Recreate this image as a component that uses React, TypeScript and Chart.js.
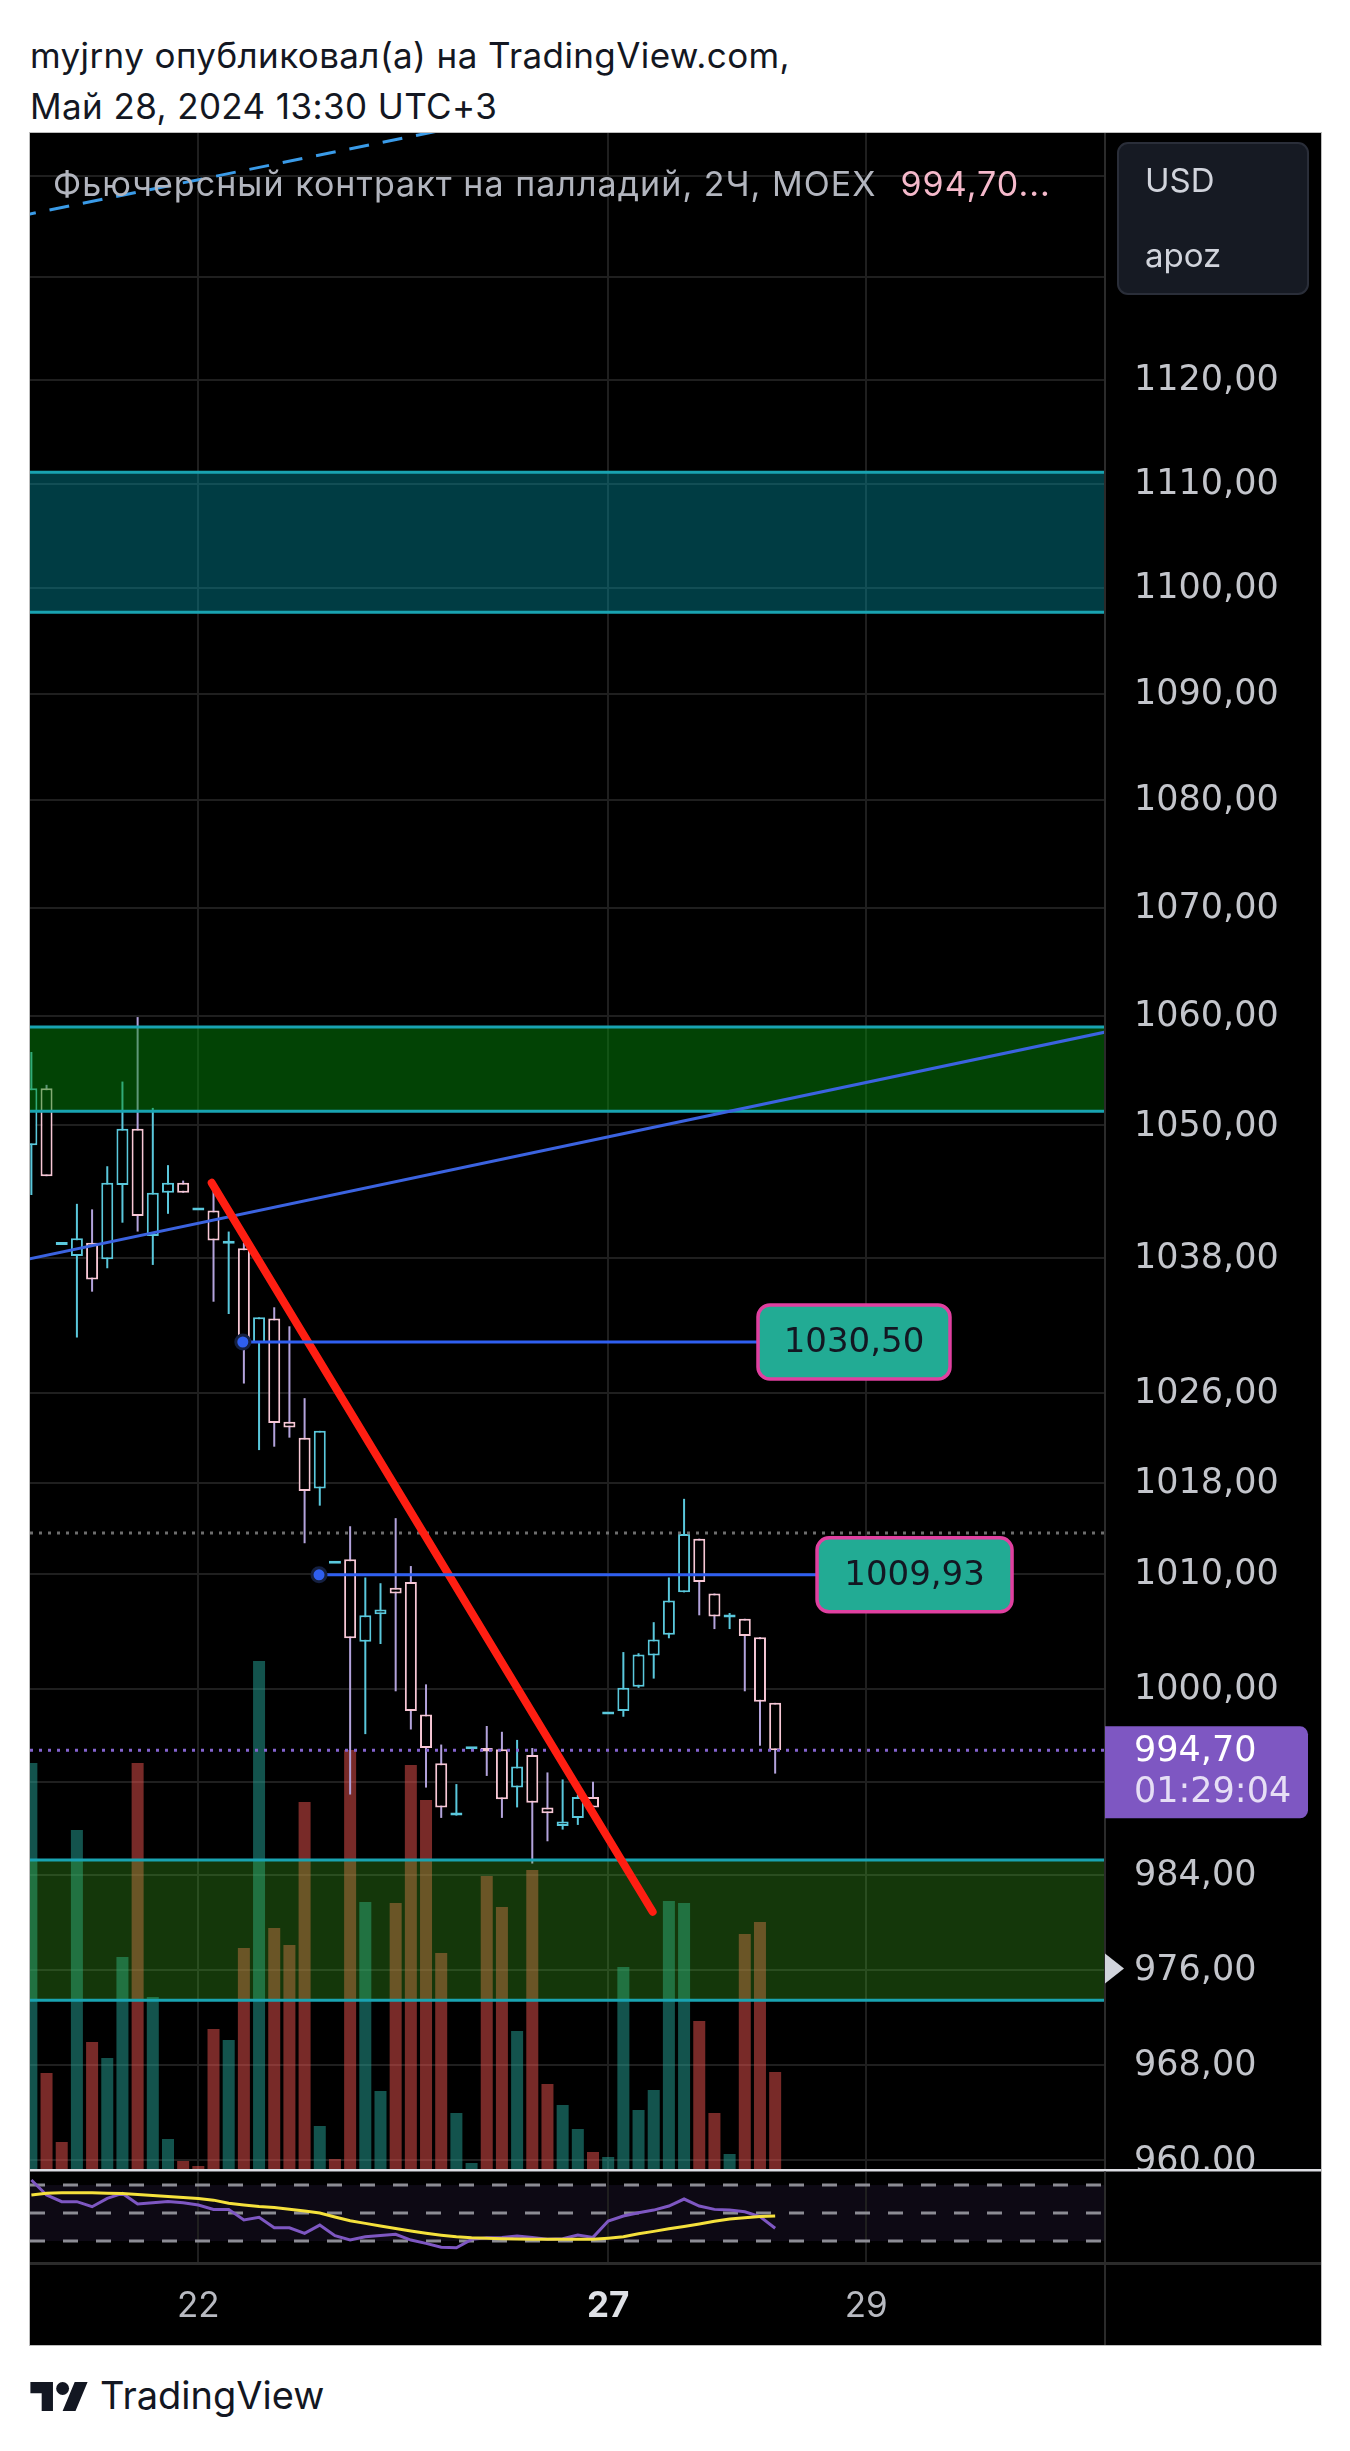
import React, { useEffect, useRef } from 'react';
import { Chart, registerables } from 'chart.js';

Chart.register(...registerables);

const FONT = "Inter, 'Noto Sans', 'DejaVu Sans', sans-serif";
const NUM_FONT = "'DejaVu Sans', Inter, sans-serif";

// ---- data: 2H candles, index 0..49 ----
const candleOpen = [1048.2, 1053.4, 1039.2, 1038.2, 1039.4, 1037.9, 1044.6, 1049.7, 1040.0, 1043.9, 1044.8, 1042.3, 1042.3, 1039.3, 1038.9, 1030.4, 1032.6, 1023.4, 1022.0, 1017.5, 1010.9, 1011.3, 1004.1, 1006.5, 1008.8, 1009.3, 997.8, 993.6, 989.1, 994.8, 994.9, 994.8, 991.5, 994.3, 989.8, 988.2, 988.9, 990.7, 997.8, 998.1, 1000.2, 1002.9, 1004.7, 1008.4, 1013.1, 1008.3, 1006.2, 1006.1, 1004.5, 998.8];
const candleHigh = [1056.7, 1053.7, 1039.2, 1042.9, 1042.4, 1046.3, 1054.0, 1059.9, 1051.6, 1046.4, 1045.0, 1042.3, 1044.1, 1040.4, 1039.4, 1032.7, 1033.6, 1031.9, 1025.5, 1022.6, 1010.9, 1014.2, 1009.7, 1009.2, 1014.9, 1010.7, 1000.4, 995.2, 991.8, 994.8, 996.8, 996.3, 995.6, 994.9, 992.8, 992.2, 990.9, 992.0, 997.8, 1003.2, 1003.1, 1005.8, 1009.7, 1016.6, 1013.1, 1008.3, 1006.6, 1006.1, 1004.5, 998.8];
const candleLow = [1043.7, 1045.4, 1039.2, 1030.9, 1035.0, 1037.1, 1041.2, 1040.4, 1037.4, 1042.0, 1043.9, 1042.3, 1034.1, 1033.0, 1026.8, 1020.9, 1021.2, 1022.0, 1012.7, 1016.0, 1010.9, 990.9, 996.1, 1003.9, 999.8, 996.5, 991.5, 988.9, 989.1, 994.8, 992.5, 988.9, 989.8, 985.0, 986.9, 987.9, 988.3, 989.8, 997.8, 997.6, 1000.1, 1000.9, 1004.4, 1008.4, 1006.4, 1005.2, 1005.2, 999.8, 995.1, 992.7];
const candleClose = [1053.4, 1045.4, 1039.2, 1039.8, 1036.1, 1044.8, 1049.7, 1041.8, 1043.9, 1044.8, 1043.9, 1042.3, 1039.6, 1039.4, 1030.5, 1032.7, 1023.3, 1022.9, 1017.3, 1022.6, 1010.9, 1004.4, 1006.4, 1006.9, 1008.3, 998.1, 994.9, 989.8, 989.1, 994.8, 994.6, 990.5, 993.3, 990.2, 989.3, 988.6, 990.7, 989.8, 997.8, 1000.1, 1003.0, 1004.3, 1007.7, 1013.5, 1009.3, 1006.3, 1006.4, 1004.6, 998.9, 994.7];
const volume = [406, 96, 27, 339, 127, 111, 212, 406, 172, 30, 8, 3, 140, 129, 221, 508, 241, 224, 367, 43, 10, 419, 267, 78, 266, 404, 369, 216, 56, 6, 293, 262, 138, 299, 85, 64, 40, 17, 12, 202, 59, 79, 268, 266, 148, 56, 15, 235, 247, 97];
const volumeUp = [1, 0, 0, 1, 0, 1, 1, 0, 1, 1, 0, 0, 0, 1, 0, 1, 0, 0, 0, 1, 0, 0, 1, 1, 0, 0, 0, 0, 1, 1, 0, 0, 1, 0, 0, 1, 1, 0, 1, 1, 1, 1, 1, 1, 0, 0, 1, 0, 0, 0];
const rsiValues = [73.6, 62.9, 58.1, 58.1, 54.5, 60.5, 64.0, 56.4, 57.4, 58.3, 57.4, 55.7, 52.6, 52.6, 45.0, 46.9, 39.5, 39.5, 35.5, 41.4, 33.8, 30.7, 33.1, 34.0, 34.8, 30.7, 28.3, 25.5, 25.2, 31.2, 32.4, 32.6, 33.6, 32.6, 31.2, 31.7, 34.3, 32.6, 44.3, 47.9, 50.2, 52.1, 55.0, 60.0, 55.0, 52.6, 52.1, 50.9, 47.4, 39.1];
const rsiMa = [62.9, 64.1, 64.5, 64.5, 64.4, 64.2, 63.9, 63.3, 62.5, 61.8, 61.0, 60.4, 59.2, 57.0, 55.8, 54.6, 53.9, 52.7, 51.4, 50.0, 47.2, 44.5, 42.6, 40.8, 38.9, 37.2, 35.6, 34.2, 33.0, 32.3, 32.0, 31.7, 31.5, 31.3, 31.2, 31.2, 31.2, 31.2, 32.0, 33.0, 35.2, 36.9, 38.7, 40.4, 42.2, 44.1, 45.8, 46.6, 47.5, 47.9];
const rsiLevels = [70, 50, 30];

const priceTicks = [1140, 1130, 1120, 1110, 1100, 1090, 1080, 1070, 1060, 1050, 1038, 1026, 1018, 1010, 1000, 992, 984, 976, 968, 960];
const dayTicks = [11, 38, 55];
const dayLabels = ['22', '27', '29'];

const zoneTeal = [1097.7, 1111.1];
const zoneGreenTop = [1051.3, 1059.0];
const zoneGreenBottom = [973.4, 985.3];
const trendLine = [[-1, 1037.7], [71, 1058.6]];
const channelLine = [[-1, 1135.95], [30, 1145.4]];
const redLine = [[11.88, 1044.8], [40.93, 980.9]];
const levelA = [[13.93, 1030.5], [47.87, 1030.5]];
const levelB = [[18.95, 1009.93], [51.76, 1009.93]];
const sessionHigh = 1013.6;
const lastPrice = 994.7;
const countdown = '01:29:04';
const arrowPrice = 976;

const PRICE_MIN = 959.29;
const PRICE_MAX = 1144.22;
const X_MIN = -0.09;
const X_MAX = 70.73;
const RSI_MIN = 14.3;
const RSI_MAX = 79.3;
const VOL_MAX = 2036;

const BULL = '#5ac8dc';
const BEAR = '#f7c7d5';
const BEAR_WICK = '#b3a3dc';
const VOL_UP = 'rgba(38,166,154,0.5)';
const VOL_DOWN = 'rgba(239,83,80,0.5)';
const GRID = '#1f1f1f';
const AXIS_TEXT = '#c3c5cb';
const ZONE_LINE = '#19a3b1';
const LEVEL_BLUE = '#2f5ff0';

const fmt = (v: number) => v.toFixed(2).replace('.', ',');
const pts = (arr: number[][]) => arr.map(([x, y]) => ({ x, y }));

function drawZones(chart: any) {
  const { ctx, chartArea: a, scales } = chart;
  const y = scales.y;
  ctx.save();
  ctx.beginPath();
  ctx.rect(a.left, a.top, a.right - a.left, a.bottom - a.top);
  ctx.clip();
  const zs: [number[], string][] = [
    [zoneTeal, 'rgba(0,150,168,0.40)'],
    [zoneGreenTop, 'rgba(5,140,10,0.48)'],
    [zoneGreenBottom, 'rgba(71,196,36,0.28)'],
  ];
  for (const [z, c] of zs) {
    const yTop = y.getPixelForValue(z[1]);
    const yBot = y.getPixelForValue(z[0]);
    ctx.fillStyle = c;
    ctx.fillRect(a.left, yTop, a.right - a.left, yBot - yTop);
    ctx.strokeStyle = ZONE_LINE;
    ctx.lineWidth = 3;
    ctx.beginPath();
    ctx.moveTo(a.left, yTop);
    ctx.lineTo(a.right, yTop);
    ctx.moveTo(a.left, yBot);
    ctx.lineTo(a.right, yBot);
    ctx.stroke();
  }
  ctx.restore();
}

function drawLevelBox(chart: any, level: number[][], text: string, w: number) {
  const { ctx, scales } = chart;
  const x0 = scales.x.getPixelForValue(level[1][0]);
  const yc = scales.y.getPixelForValue(level[1][1]);
  const h = 74;
  ctx.save();
  ctx.beginPath();
  ctx.roundRect(x0, yc - h / 2, w, h, 12);
  ctx.fillStyle = '#22ab94';
  ctx.fill();
  ctx.lineWidth = 3.5;
  ctx.strokeStyle = '#e040a0';
  ctx.stroke();
  ctx.fillStyle = '#131722';
  ctx.font = `34px ${NUM_FONT}`;
  ctx.textAlign = 'center';
  ctx.textBaseline = 'middle';
  ctx.fillText(text, x0 + w / 2, yc + 1);
  ctx.restore();
}

function PriceChart() {
  const ref = useRef<HTMLCanvasElement | null>(null);
  useEffect(() => {
    const canvas = ref.current;
    if (!canvas) return;
    const idx = candleOpen.map((_, i) => i);
    const up = idx.map((i) => candleClose[i] >= candleOpen[i]);

    const overlayPlugin = {
      id: 'tvOverlay',
      beforeDraw(chart: any) {
        const { ctx, width, height } = chart;
        ctx.save();
        ctx.fillStyle = '#000';
        ctx.fillRect(0, 0, width, height);
        ctx.restore();
      },
      beforeDatasetsDraw(chart: any) {
        chart.$zonesDrawn = false;
      },
      beforeDatasetDraw(chart: any, args: any) {
        const ds = chart.data.datasets[args.index];
        if (ds.overlay && !chart.$zonesDrawn) {
          chart.$zonesDrawn = true;
          drawZones(chart);
        }
      },
      afterDraw(chart: any) {
        const { ctx, chartArea: a, scales, height } = chart;
        ctx.save();
        ctx.fillStyle = '#2b2b2b';
        ctx.fillRect(a.right - 1, 0, 2, height);
        ctx.restore();

        drawLevelBox(chart, levelA, fmt(levelA[1][1]), 192);
        drawLevelBox(chart, levelB, fmt(levelB[1][1]), 195);

        // current price label
        const yl = scales.y.getPixelForValue(lastPrice);
        ctx.save();
        ctx.beginPath();
        ctx.roundRect(a.right, yl - 24, 203, 92, [0, 8, 8, 0]);
        ctx.fillStyle = '#7e57c2';
        ctx.fill();
        ctx.font = `35px ${NUM_FONT}`;
        ctx.textBaseline = 'middle';
        ctx.textAlign = 'left';
        ctx.fillStyle = '#ffffff';
        ctx.fillText(fmt(lastPrice), a.right + 29, yl + 2);
        ctx.fillStyle = '#e6def5';
        ctx.fillText(countdown, a.right + 29, yl + 43);
        ctx.restore();

        // arrow marker
        const ya = scales.y.getPixelForValue(arrowPrice) - 1;
        ctx.save();
        ctx.fillStyle = '#d1d4dc';
        ctx.beginPath();
        ctx.moveTo(a.right, ya - 15);
        ctx.lineTo(a.right + 19, ya);
        ctx.lineTo(a.right, ya + 15);
        ctx.closePath();
        ctx.fill();
        ctx.restore();

        // legend
        ctx.save();
        ctx.font = `34px ${FONT}`;
        (ctx as any).letterSpacing = '1.05px';
        ctx.textBaseline = 'middle';
        ctx.textAlign = 'left';
        ctx.fillStyle = '#b2b5be';
        const title = 'Фьючерсный контракт на палладий, 2Ч, MOEX';
        ctx.fillText(title, 23, 53);
        const tw = ctx.measureText(title).width;
        ctx.fillStyle = '#f5b9cb';
        ctx.fillText(fmt(lastPrice) + '...', 23 + tw + 24, 53);
        ctx.restore();

        // currency / unit box
        ctx.save();
        ctx.beginPath();
        ctx.roundRect(1088, 10, 190, 151, 10);
        ctx.fillStyle = '#161a23';
        ctx.fill();
        ctx.lineWidth = 2;
        ctx.strokeStyle = '#2a2e39';
        ctx.stroke();
        ctx.font = `33px ${FONT}`;
        ctx.fillStyle = '#d1d4dc';
        ctx.textBaseline = 'middle';
        ctx.fillText('USD', 1115, 49);
        ctx.fillText('apoz', 1115, 124);
        ctx.restore();
      },
    };

    const flat = (y: number) => [{ x: X_MIN, y }, { x: X_MAX, y }];

    const chart = new Chart(canvas, {
      type: 'bar',
      data: {
        datasets: [
          { type: 'line', overlay: true, data: pts(levelA), borderColor: LEVEL_BLUE, borderWidth: 3, pointRadius: [7, 0], pointBackgroundColor: LEVEL_BLUE, pointBorderColor: '#152040', pointBorderWidth: 3, order: 0, clip: 0 },
          { type: 'line', overlay: true, data: pts(levelB), borderColor: LEVEL_BLUE, borderWidth: 3, pointRadius: [7, 0], pointBackgroundColor: LEVEL_BLUE, pointBorderColor: '#152040', pointBorderWidth: 3, order: 0, clip: 0 },
          { type: 'line', overlay: true, data: pts(redLine), borderColor: '#ff1e12', borderWidth: 8, borderCapStyle: 'round', pointRadius: 0, order: 0, clip: 0 },
          { type: 'line', overlay: true, data: pts(trendLine), borderColor: '#3b63e0', borderWidth: 3, pointRadius: 0, order: 0, clip: 0 },
          { type: 'line', overlay: true, data: pts(channelLine), borderColor: '#3a9be8', borderWidth: 3, borderDash: [20, 14], pointRadius: 0, order: 0, clip: 0 },
          { type: 'line', overlay: true, data: flat(sessionHigh), borderColor: '#6e6e6e', borderWidth: 3, borderDash: [3, 6], pointRadius: 0, order: 0, clip: 0 },
          { type: 'line', overlay: true, data: flat(lastPrice), borderColor: '#8463cf', borderWidth: 3, borderDash: [3, 6], pointRadius: 0, order: 0, clip: 0 },
          {
            type: 'bar', data: idx.map((i) => ({ x: i, y: [candleOpen[i], candleClose[i]] })),
            backgroundColor: '#000', borderColor: up.map((u) => (u ? BULL : BEAR)), borderWidth: 2, borderSkipped: false,
            barThickness: 12, minBarLength: 3, grouped: false, order: 1, yAxisID: 'y', inflateAmount: 0,
          },
          {
            type: 'bar', data: idx.map((i) => ({ x: i, y: [candleLow[i], candleHigh[i]] })),
            backgroundColor: up.map((u) => (u ? BULL : BEAR_WICK)), borderWidth: 0, barThickness: 2,
            grouped: false, order: 2, yAxisID: 'y', inflateAmount: 0,
          },
          {
            type: 'bar', data: idx.map((i) => ({ x: i, y: volume[i] })),
            backgroundColor: volumeUp.map((u) => (u ? VOL_UP : VOL_DOWN)), borderWidth: 0, barThickness: 12,
            grouped: false, order: 3, yAxisID: 'yVol', inflateAmount: 0,
          },
        ] as any,
      },
      options: {
        responsive: false,
        animation: false,
        devicePixelRatio: 1,
        events: [],
        layout: { padding: 0, autoPadding: false },
        plugins: { legend: { display: false }, tooltip: { enabled: false } },
        scales: {
          x: {
            type: 'linear', min: X_MIN, max: X_MAX, offset: false, position: 'bottom',
            afterBuildTicks: (s: any) => { s.ticks = dayTicks.map((v) => ({ value: v })); },
            ticks: { display: false },
            grid: { color: GRID, lineWidth: 2, drawTicks: false, offset: false },
            border: { display: false },
            afterFit: (s: any) => { s.height = 0; s.paddingLeft = 0; s.paddingRight = 0; },
          },
          y: {
            type: 'logarithmic', position: 'right', min: PRICE_MIN, max: PRICE_MAX,
            afterBuildTicks: (s: any) => { s.ticks = priceTicks.map((v) => ({ value: v })); },
            ticks: { callback: (v: any) => fmt(Number(v)), color: AXIS_TEXT, font: { size: 35, family: NUM_FONT }, padding: 29, autoSkip: false, labelOffset: 1 },
            grid: { color: GRID, lineWidth: 2, drawTicks: false },
            border: { display: false },
            afterFit: (s: any) => { s.width = 216; s.paddingTop = 0; s.paddingBottom = 0; },
          },
          yVol: { type: 'linear', display: false, min: 0, max: VOL_MAX, position: 'left' },
        },
      } as any,
      plugins: [overlayPlugin],
    });
    return () => chart.destroy();
  }, []);
  return <canvas ref={ref} width={1291} height={2036} style={{ position: 'absolute', left: 0, top: 0, width: 1291, height: 2036 }} />;
}

function RsiChart() {
  const ref = useRef<HTMLCanvasElement | null>(null);
  useEffect(() => {
    const canvas = ref.current;
    if (!canvas) return;
    const idx = rsiValues.map((_, i) => i);
    const panePlugin = {
      id: 'rsiPane',
      beforeDraw(chart: any) {
        const { ctx, width, chartArea: a, scales } = chart;
        ctx.save();
        ctx.fillStyle = '#000';
        ctx.fillRect(0, 0, width, chart.height);
        ctx.fillStyle = '#dcdde3';
        ctx.fillRect(0, 0, width, 2.5);
        const y70 = scales.y.getPixelForValue(rsiLevels[0]);
        const y30 = scales.y.getPixelForValue(rsiLevels[2]);
        ctx.fillStyle = 'rgba(126,87,194,0.10)';
        ctx.fillRect(a.left, y70, a.right - a.left, y30 - y70);
        ctx.restore();
      },
      afterDraw(chart: any) {
        const { ctx, width, height, chartArea: a } = chart;
        ctx.save();
        ctx.fillStyle = '#2b2b2b';
        ctx.fillRect(0, a.bottom - 1, width, 3);
        ctx.fillRect(a.right - 1, 2.5, 2, height);
        ctx.restore();
      },
    };
    const chart = new Chart(canvas, {
      type: 'line',
      data: {
        datasets: [
          { data: idx.map((i) => ({ x: i, y: rsiValues[i] })), borderColor: '#7e57c2', borderWidth: 3, pointRadius: 0, order: 1 },
          { data: idx.map((i) => ({ x: i, y: rsiMa[i] })), borderColor: '#f5e13c', borderWidth: 3, pointRadius: 0, order: 0 },
          ...rsiLevels.map((l) => ({ data: [{ x: X_MIN, y: l }, { x: X_MAX, y: l }], borderColor: '#8c8c94', borderWidth: 3, borderDash: [15, 18], pointRadius: 0, order: 2 })),
        ] as any,
      },
      options: {
        responsive: false,
        animation: false,
        devicePixelRatio: 1,
        events: [],
        layout: { padding: { top: 3, left: 0, right: 0, bottom: 0 }, autoPadding: false },
        plugins: { legend: { display: false }, tooltip: { enabled: false } },
        scales: {
          x: {
            type: 'linear', min: X_MIN, max: X_MAX, offset: false, position: 'bottom',
            afterBuildTicks: (s: any) => { s.ticks = dayTicks.map((v) => ({ value: v })); },
            ticks: {
              autoSkip: false, maxRotation: 0, minRotation: 0, padding: 22,
              callback: (v: any) => dayLabels[dayTicks.indexOf(Number(v))] ?? '',
              font: (c: any) => ({ size: 35, family: FONT, weight: c.tick && c.tick.value === 38 ? 'bold' : 'normal' }),
              color: (c: any) => (c.tick && c.tick.value === 38 ? '#dfe1e6' : '#b8bac1'),
            },
            grid: { color: GRID, lineWidth: 2, drawTicks: false, offset: false },
            border: { display: false },
            afterFit: (s: any) => { s.height = 82; s.paddingLeft = 0; s.paddingRight = 0; },
          },
          y: {
            type: 'linear', position: 'right', min: RSI_MIN, max: RSI_MAX,
            ticks: { display: false }, grid: { display: false }, border: { display: false },
            afterFit: (s: any) => { s.width = 216; s.paddingTop = 0; s.paddingBottom = 0; },
          },
        },
      } as any,
      plugins: [panePlugin],
    });
    return () => chart.destroy();
  }, []);
  return <canvas ref={ref} width={1291} height={176} style={{ position: 'absolute', left: 0, top: 0, width: 1291, height: 176 }} />;
}

export default function App() {
  const header: React.CSSProperties = { position: 'absolute', left: 30, fontSize: 35, lineHeight: '40px', letterSpacing: '0.4px', color: '#131722', whiteSpace: 'nowrap' };
  return (
    <div style={{ position: 'absolute', left: 0, top: 0, width: 1350, height: 2451, background: '#ffffff', overflow: 'hidden', fontFamily: FONT }}>
      <div style={{ ...header, top: 35 }}>myjrny опубликовал(а) на TradingView.com,</div>
      <div style={{ ...header, top: 86 }}>Май 28, 2024 13:30 UTC+3</div>
      <div style={{ position: 'absolute', left: 30, top: 133, width: 1291, height: 2212, background: '#000', boxShadow: '0 0 0 1px #bdbdbd' }}>
        <PriceChart />
        <div style={{ position: 'absolute', left: 0, top: 2036, width: 1291, height: 176 }}>
          <RsiChart />
        </div>
      </div>
      <svg style={{ position: 'absolute', left: 30, top: 2382 }} width={58} height={29} viewBox="0 4 35.5 18">
        <path d="M14 22H7V11H0V4h14v18zM28 22h-8l7.5-18h8L28 22z" fill="#131722" />
        <circle cx={20} cy={8} r={4} fill="#131722" />
      </svg>
      <div style={{ position: 'absolute', left: 100, top: 2372, fontSize: 38, lineHeight: '46px', color: '#131722', whiteSpace: 'nowrap' }}>TradingView</div>
    </div>
  );
}
